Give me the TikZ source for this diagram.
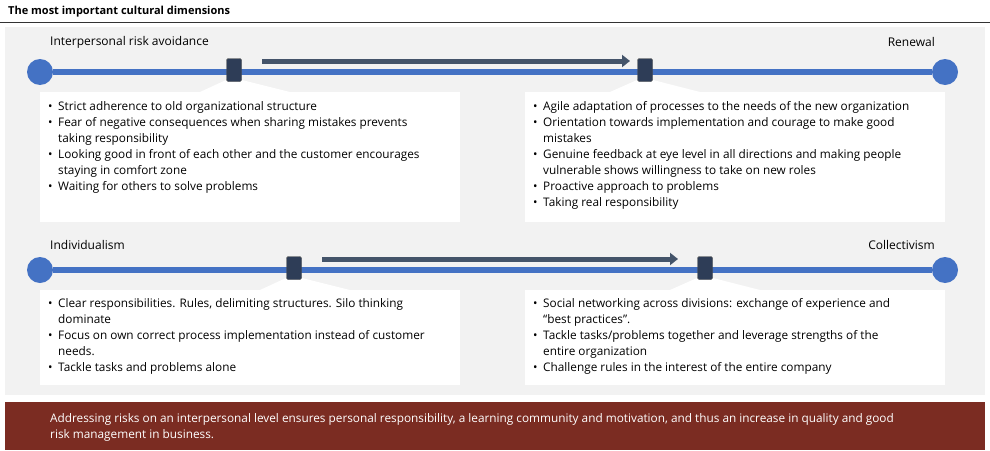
\documentclass[tikz,border=0pt]{standalone}
\usepackage{fontspec}
\usetikzlibrary{arrows.meta}
\setmainfont{Open Sans}
\definecolor{blueline}{HTML}{4472C4}
\definecolor{mark}{HTML}{2E3D57}
\definecolor{arr}{HTML}{44546A}
\definecolor{panel}{HTML}{F2F2F2}
\definecolor{banner}{HTML}{7B2C22}
\newcommand{\bl}[1]{\makebox[10pt][l]{\textbullet}#1}
\newcommand{\cn}{\hspace*{10pt}}
\begin{document}
\begin{tikzpicture}[x=1pt,y=-1pt,
  lbl/.style={font=\fontsize{12}{14}\selectfont,inner sep=0,anchor=west},
  txt/.style={font=\fontsize{11.8}{16}\selectfont,inner sep=0,anchor=north west,align=left},
  axis/.style={blueline,line width=6pt},
  dot/.style={circle,fill=blueline,minimum size=26pt,inner sep=0},
  mk/.style={draw=black!70,fill=mark,rounded corners=1.5pt,minimum width=15pt,minimum height=23pt,inner sep=0},
  bx/.style={fill=white,draw=none},
  pr/.style={arr,line width=5pt,-{Triangle[length=8pt,width=12pt]}}]
\useasboundingbox (0,0) rectangle (990,450);
\node[inner sep=0,anchor=west,font=\fontsize{11}{12}\selectfont\bfseries] (title) at (8,12) {The most important cultural dimensions};
\draw[black!80,line width=0.6pt] (0,22) -- (990,22);
\fill[panel] (5,27) rectangle (985,395);
% row 1
\node[lbl] (l1) at (50,42) {Interpersonal risk avoidance};
\node[lbl,anchor=east] (r1) at (935,42) {Renewal};
\node[dot] (a1) at (40,72) {};
\node[dot] (b1) at (945,72) {};
\draw[axis] (a1) -- (b1);
\fill[white] (226,80) -- (242,80) -- (290,92) -- (200,92) -- cycle;
\fill[white] (637,80) -- (653,80) -- (700,92) -- (610,92) -- cycle;
\fill[bx] (40,92) rectangle (460,222);
\fill[bx] (525,92) rectangle (945,222);
\node[mk] (m1) at (234,70) {};
\node[mk] (m2) at (645,70) {};
\coordinate (p1) at (262,61);
\coordinate (q1) at (630,61);
\draw[pr] (p1) -- (q1);
\node[txt] (t1) at (48,101) {\bl{Strict adherence to old organizational structure}\\
\bl{Fear of negative consequences when sharing mistakes prevents}\\\cn taking responsibility\\
\bl{Looking good in front of each other and the customer encourages}\\\cn staying in comfort zone\\
\bl{Waiting for others to solve problems}};
\node[txt] (t2) at (533,101) {\bl{Agile adaptation of processes to the needs of the new organization}\\
\bl{Orientation towards implementation and courage to make good}\\\cn mistakes\\
\bl{Genuine feedback at eye level in all directions and making people}\\\cn vulnerable shows willingness to take on new roles\\
\bl{Proactive approach to problems}\\
\bl{Taking real responsibility}};
% row 2
\node[lbl] (l2) at (50,245) {Individualism};
\node[lbl,anchor=east] (r2) at (935,245) {Collectivism};
\node[dot] (a2) at (40,270) {};
\node[dot] (b2) at (945,270) {};
\draw[axis] (a2) -- (b2);
\fill[white] (286,278) -- (302,278) -- (350,290) -- (260,290) -- cycle;
\fill[white] (697,278) -- (713,278) -- (760,290) -- (670,290) -- cycle;
\fill[bx] (40,290) rectangle (460,385);
\fill[bx] (525,290) rectangle (945,385);
\node[mk] (m3) at (294,268) {};
\node[mk] (m4) at (705,268) {};
\coordinate (p2) at (322,259);
\coordinate (q2) at (678,259);
\draw[pr] (p2) -- (q2);
\node[txt] (t3) at (48,298) {\bl{Clear responsibilities. Rules, delimiting structures. Silo thinking}\\\cn dominate\\
\bl{Focus on own correct process implementation instead of customer}\\\cn needs.\\
\bl{Tackle tasks and problems alone}};
\node[txt] (t4) at (533,298) {\bl{Social networking across divisions: exchange of experience and}\\\cn ``best practices''.\\
\bl{Tackle tasks/problems together and leverage strengths of the}\\\cn entire organization\\
\bl{Challenge rules in the interest of the entire company}};
% banner
\fill[banner] (5,402) rectangle (985,450);
\node[txt,text=white,font=\fontsize{11.8}{16}\selectfont,anchor=north west] (bn) at (50,413) {Addressing risks on an interpersonal level ensures personal responsibility, a learning community and motivation, and thus an increase in quality and good\\risk management in business.};
\end{tikzpicture}
\end{document}
